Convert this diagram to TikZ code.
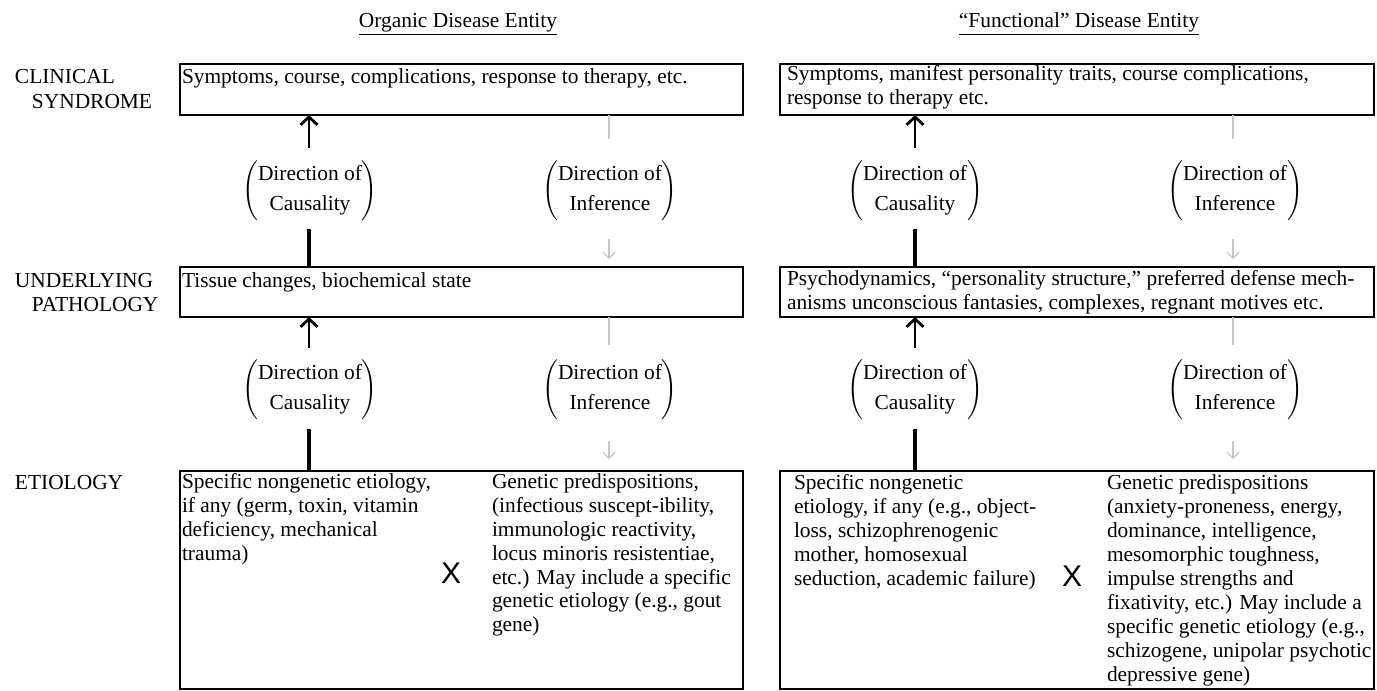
\documentclass[tikz,border=0pt]{standalone}
\usepackage{fontspec}
\setmainfont{Liberation Serif}
\newfontfamily\sansx{Liberation Sans}
\usetikzlibrary{arrows.meta}
\begin{document}
\begin{tikzpicture}[x=0.5pt,y=-0.5pt,
  every node/.style={inner sep=0pt, outer sep=0pt},
  txt/.style={font=\fontsize{10.7}{11.9}\selectfont, align=left, anchor=north west},
  txtb/.style={font=\fontsize{10.7}{12}\selectfont, align=left, anchor=north west},
  one/.style={font=\fontsize{10.7}{12}\selectfont, anchor=base west},
  ttl/.style={font=\fontsize{10.7}{12}\selectfont, anchor=base},
  box/.style={draw, line width=1.25pt},
  blk/.style={line width=1.6pt},
  uparr/.style={line width=1.4pt, -{Straight Barb[length=4pt,width=8.5pt]}},
  gryl/.style={draw=black!22, line width=0.6pt},
  gryarr/.style={draw=black!22, line width=0.6pt, -{Straight Barb[length=3pt,width=6pt]}},
  parn/.style={font=\fontsize{10.7}{12}\selectfont},
  bigx/.style={font=\sansx\fontsize{15}{15}\selectfont}]
\useasboundingbox (0,0) rectangle (1377,691);

% titles
\node[ttl] (tl) at (458,27) {\underline{Organic Disease Entity}};
\node[ttl] (tr) at (1079,27) {\underline{“Functional” Disease Entity}};

% row labels
\node[font=\fontsize{10.7}{12.5}\selectfont, align=left, anchor=north west] (lab1) at (15,65.5) {\strut CLINICAL\\\hspace*{8.5pt}SYNDROME};
\node[txtb] (lab2) at (15,270.2) {\strut UNDERLYING\\\hspace*{8.5pt}PATHOLOGY};
\node[one] (lab3) at (15,489) {ETIOLOGY};

% boxes
\node[box, minimum width=281.5pt, minimum height=25.5pt] (lb1) at (461.5,89.5) {};
\node[box, minimum width=281.5pt, minimum height=25pt] (lb2) at (461.5,292) {};
\node[box, minimum width=281.5pt, minimum height=109pt] (lb3) at (461.5,580) {};
\node[box, minimum width=297pt, minimum height=25.5pt] (rb1) at (1077,89.5) {};
\node[box, minimum width=297pt, minimum height=25pt] (rb2) at (1077,292) {};
\node[box, minimum width=297pt, minimum height=109pt] (rb3) at (1077,580) {};

% box texts
\node[one] (lt1) at (182,83) {Symptoms, course, complications, response to therapy, etc.};
\node[one] (lt2) at (182,287) {Tissue changes, biochemical state};
\node[txt] (lt3a) at (182,472.3) {\strut Specific nongenetic etiology,\\if any (germ, toxin, vitamin\\deficiency, mechanical\\trauma)};
\node[txt] (lt3b) at (492,472.3) {\strut Genetic predispositions,\\(infectious suscept-ibility,\\immunologic reactivity,\\locus minoris resistentiae,\\etc.) May include a specific\\genetic etiology (e.g., gout\\gene)};
\node[bigx] (lx) at (451,573) {X};

\node[txtb] (rt1) at (787,63.2) {\strut Symptoms, manifest personality traits, course complications,\\response to therapy etc.};
\node[txtb] (rt2) at (787,268.2) {\strut Psychodynamics, “personality structure,” preferred defense mech-\\anisms unconscious fantasies, complexes, regnant motives etc.};
\node[txtb] (rt3a) at (794,472.2) {\strut Specific nongenetic\\etiology, if any (e.g., object-\\loss, schizophrenogenic\\mother, homosexual\\seduction, academic failure)};
\node[txtb] (rt3b) at (1107,472.2) {\strut Genetic predispositions\\(anxiety-proneness, energy,\\dominance, intelligence,\\mesomorphic toughness,\\impulse strengths and\\fixativity, etc.) May include a\\specific genetic etiology (e.g.,\\schizogene, unipolar psychotic\\depressive gene)};
\node[bigx] (rx) at (1072,576) {X};

% parentheses
\newcommand{\dirbox}[1]{$\left(\begin{tabular}{@{}c@{}}Direction of\\[3pt]#1\end{tabular}\right)$}
\node[parn] (lpc1) at (310,191) {\dirbox{Causality}};
\node[parn] (lpi1) at (610,191) {\dirbox{Inference}};
\node[parn] (lpc2) at (310,390) {\dirbox{Causality}};
\node[parn] (lpi2) at (610,390) {\dirbox{Inference}};
\node[parn] (rpc1) at (915,191) {\dirbox{Causality}};
\node[parn] (rpi1) at (1235,191) {\dirbox{Inference}};
\node[parn] (rpc2) at (915,390) {\dirbox{Causality}};
\node[parn] (rpi2) at (1235,390) {\dirbox{Inference}};

% connector end points
\coordinate (lca1) at (309,148);
\coordinate (lcl1) at (309,229);
\coordinate (lca2) at (309,348);
\coordinate (lcl2) at (309,429);
\coordinate (rca1) at (915,148);
\coordinate (rcl1) at (915,229);
\coordinate (rca2) at (915,348);
\coordinate (rcl2) at (915,429);
\coordinate (lig1) at (609,139);
\coordinate (lia1) at (609,239);
\coordinate (lie1) at (609,259);
\coordinate (lig2) at (609,345);
\coordinate (lia2) at (609,441);
\coordinate (lie2) at (609,459);
\coordinate (rig1) at (1233,139);
\coordinate (ria1) at (1233,239);
\coordinate (rie1) at (1233,259);
\coordinate (rig2) at (1233,345);
\coordinate (ria2) at (1233,441);
\coordinate (rie2) at (1233,459);

% causality (black)
\draw[uparr] (lca1) -- (lca1 |- lb1.south);
\draw[blk] (lcl1) -- (lcl1 |- lb2.north);
\draw[uparr] (lca2) -- (lca2 |- lb2.south);
\draw[blk] (lcl2) -- (lcl2 |- lb3.north);
\draw[uparr] (rca1) -- (rca1 |- rb1.south);
\draw[blk] (rcl1) -- (rcl1 |- rb2.north);
\draw[uparr] (rca2) -- (rca2 |- rb2.south);
\draw[blk] (rcl2) -- (rcl2 |- rb3.north);

% inference (grey)
\draw[gryl] (lig1 |- lb1.south) -- (lig1);
\draw[gryarr] (lia1) -- (lie1);
\draw[gryl] (lig2 |- lb2.south) -- (lig2);
\draw[gryarr] (lia2) -- (lie2);
\draw[gryl] (rig1 |- rb1.south) -- (rig1);
\draw[gryarr] (ria1) -- (rie1);
\draw[gryl] (rig2 |- rb2.south) -- (rig2);
\draw[gryarr] (ria2) -- (rie2);
\end{tikzpicture}
\end{document}
